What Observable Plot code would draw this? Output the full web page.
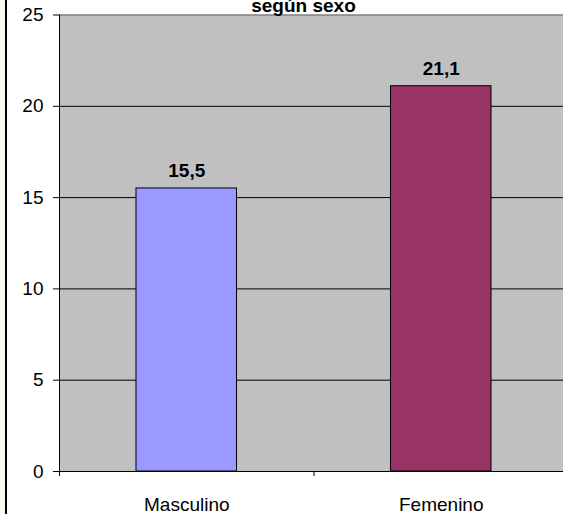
<!DOCTYPE html>
<html>
<head>
<meta charset="utf-8">
<script src="https://cdn.jsdelivr.net/npm/d3@7"></script>
<script src="https://cdn.jsdelivr.net/npm/@observablehq/plot@0.6"></script>
<style>
  html, body { margin: 0; padding: 0; background: #fff; }
  #chart svg { display: block; }
</style>
</head>
<body>
<div id="chart"></div>
<script>
const categories = ["Masculino", "Femenino"];
const values = [15.5, 21.1];
const valueLabels = ["15,5", "21,1"];
const colors = ["#9999ff", "#993366"];
const yTicks = [0, 5, 10, 15, 20, 25];
const gridTicks = [5, 10, 15, 20];
const title = "según sexo";

const data = categories.map((c, i) => ({cat: c, i, value: values[i], label: valueLabels[i], color: colors[i]}));
const barHalf = 0.1975;
const font = "'Liberation Sans', Arial, sans-serif";

const chart = Plot.plot({
  width: 563,
  height: 514,
  marginLeft: 59,
  marginRight: 0,
  marginTop: 14.5,
  marginBottom: 43,
  style: {
    fontFamily: font, fontSize: "19px", color: "#000", overflow: "hidden",
    background: "linear-gradient(to right, #fffaf0 0 5px, #000 5px 7px, #fff 7px)"
  },
  x: {domain: [0, categories.length], range: [59, 568]},
  y: {domain: [0, 25]},
  marks: [
    Plot.frame({fill: "#c0c0c0", stroke: null}),
    Plot.ruleY(gridTicks, {stroke: "#000", strokeWidth: 1}),
    Plot.ruleY([25], {stroke: "#808080", strokeWidth: 1.5}),
    Plot.rectY(data, {x1: d => d.i + 0.5 - barHalf, x2: d => d.i + 0.5 + barHalf, y: "value", fill: "color", stroke: "#000", strokeWidth: 1}),
    Plot.ruleY([0], {stroke: "#000", strokeWidth: 1}),
    Plot.ruleX([0], {stroke: "#000", strokeWidth: 1}),
    Plot.axisY({ticks: yTicks, tickSize: 6, tickPadding: 10, tickFormat: d => String(d), fontSize: 19, stroke: "#000", label: null}),
    Plot.axisX({ticks: d3.range(categories.length + 1), tickSize: 5, tickFormat: () => "", stroke: "#000", label: null}),
    Plot.axisX({ticks: categories.map((c, i) => i + 0.5), tickSize: 0, tickPadding: 26, tickFormat: v => categories[Math.floor(v)], fontSize: 19, label: null}),
    Plot.text(data, {x: d => d.i + 0.5, y: "value", text: "label", dy: -11, lineAnchor: "bottom", fontWeight: "bold", fontSize: 19, fill: "#000"}),
    Plot.text([title], {frameAnchor: "top", dx: -8, dy: -3.5, lineAnchor: "bottom", fontWeight: "bold", fontSize: 19, fill: "#000"})
  ]
});
document.getElementById("chart").append(chart);
</script>
</body>
</html>
